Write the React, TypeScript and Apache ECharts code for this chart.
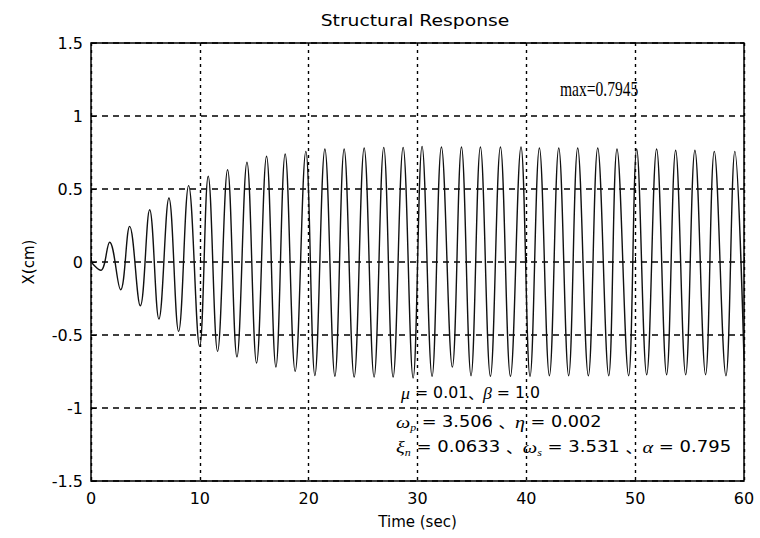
import React, { useEffect, useRef } from "react";
import * as echarts from "echarts";

// Extreme points (peaks / troughs) of the response
const TIME_SEC = [
  0, 0.89, 1.71, 2.72, 3.55, 4.53, 5.39, 6.24, 7.16, 8.05, 8.97, 9.98,
  10.77, 11.63, 12.55, 13.41, 14.33, 15.21, 16.13, 16.99, 17.84, 18.76, 19.74, 20.57,
  21.49, 22.41, 23.26, 24.18, 25.1, 26.01, 26.9, 27.76, 28.68, 29.6, 30.42, 31.34,
  32.2, 33.2, 34.04, 34.92, 35.78, 36.7, 37.62, 38.54, 39.51, 40.34, 41.2, 42.12,
  42.98, 43.89, 44.72, 45.7, 46.56, 47.57, 48.33, 49.4, 50.14, 51.06, 51.97, 52.89,
  53.72, 54.64, 55.49, 56.47, 57.27, 58.34, 59.16, 60,
];
const X_CM = [
  0, -0.057, 0.135, -0.19, 0.244, -0.3, 0.358, -0.39, 0.438, -0.475, 0.523, -0.578,
  0.587, -0.612, 0.632, -0.65, 0.683, -0.692, 0.724, -0.719, 0.74, -0.749, 0.758, -0.778,
  0.774, -0.783, 0.774, -0.788, 0.781, -0.788, 0.785, -0.788, 0.785, -0.7945, 0.792, -0.783,
  0.788, -0.72, 0.788, -0.779, 0.788, -0.783, 0.788, -0.783, 0.788, -0.783, 0.781, -0.779,
  0.781, -0.779, 0.781, -0.779, 0.781, -0.779, 0.774, -0.779, 0.774, -0.772, 0.774, -0.772,
  0.765, -0.772, 0.765, -0.772, 0.758, -0.779, 0.758, -0.67,
];

const TITLE = "Structural Response";
const X_NAME = "Time (sec)";
const Y_NAME = "X(cm)";
const MAX_LABEL = "max=0.7945";
const NOTE_LINES = [
  "{g|μ}{n| = 0.01}{c|、}{g|β}{n| = 1.0}",
  "{g|ω}{s|p}{n| = 3.506 }{c|、}{g|η}{n| = 0.002}",
  "{g|ξ}{s|n}{n| = 0.0633 }{c|、}{g|ω}{s|s}{n| = 3.531 }{c|、}{g|α}{n| = 0.795}",
];

const SANS = "DejaVu Sans";
const SERIF = "Liberation Serif";

export default function App() {
  const ref = useRef<HTMLDivElement>(null);

  useEffect(() => {
    if (!ref.current) return;
    const chart = echarts.init(ref.current, undefined, { renderer: "svg" });
    const data = TIME_SEC.map((t, i) => [t, X_CM[i]]);

    const rich = {
      g: { fontFamily: SERIF, fontStyle: "italic", fontSize: 17, fill: "#000", lineHeight: 20 },
      s: { fontFamily: SERIF, fontStyle: "italic", fontSize: 10, fill: "#000", lineHeight: 20, verticalAlign: "bottom" },
      n: { fontFamily: SANS, fontSize: 15, fill: "#000", lineHeight: 20 },
      c: { fontFamily: "Noto Sans CJK SC", fontSize: 14, fill: "#000", lineHeight: 20 },
    };
    const noteY = [393, 422, 447];
    const noteX = [401, 396, 396];
    const noteScale = [1.05, 1.18, 1.2];

    chart.setOption({
      animation: false,
      backgroundColor: "#fff",
      grid: {
        left: 91,
        right: 16,
        top: 43,
        bottom: 57,
        show: true,
        borderColor: "#000",
        borderWidth: 1.5,
        containLabel: false,
      },
      xAxis: {
        type: "value",
        min: 0,
        max: 60,
        interval: 10,
        name: X_NAME,
        nameLocation: "middle",
        nameGap: 33,
        nameTextStyle: { fontFamily: SANS, fontSize: 15, color: "#000" },
        axisLine: { show: false },
        axisTick: { show: true, inside: true, length: 5, lineStyle: { color: "#000" } },
        axisLabel: { fontFamily: SANS, fontSize: 16, color: "#000", margin: 9 },
        splitLine: { show: true, lineStyle: { color: "#000", type: [3, 4], width: 1.4 } },
      },
      yAxis: {
        type: "value",
        min: -1.5,
        max: 1.5,
        interval: 0.5,
        name: Y_NAME,
        nameLocation: "middle",
        nameGap: 55,
        nameRotate: 90,
        nameTextStyle: { fontFamily: SANS, fontSize: 15, color: "#000" },
        axisLine: { show: false },
        axisTick: { show: true, inside: true, length: 5, lineStyle: { color: "#000" } },
        axisLabel: { fontFamily: SANS, fontSize: 16, color: "#000", margin: 8 },
        splitLine: { show: true, lineStyle: { color: "#000", type: [6, 5], width: 1.5 } },
      },
      series: [
        {
          type: "line",
          data,
          showSymbol: false,
          smooth: 0.4,
          lineStyle: { color: "#111", width: 1.4 },
          z: 3,
        },
      ],
      graphic: [
        {
          type: "text",
          x: 415,
          y: 21,
          scaleX: 1.25,
          style: { text: TITLE, font: `15px '${SANS}'`, fill: "#000", align: "center", verticalAlign: "middle" },
        },
        {
          type: "text",
          x: 560,
          y: 89,
          scaleX: 0.74,
          style: { text: MAX_LABEL, font: `21px '${SERIF}'`, fill: "#000", align: "left", verticalAlign: "middle" },
          z: 10,
        },
        ...NOTE_LINES.map((txt, i) => ({
          type: "text",
          x: noteX[i],
          y: noteY[i],
          scaleX: noteScale[i],
          style: { text: txt, rich, fill: "#000", align: "left", verticalAlign: "middle" },
          z: 10,
        })),
      ],
    });
    return () => chart.dispose();
  }, []);

  return (
    <div
      ref={ref}
      style={{ position: "absolute", left: 0, top: 0, width: 760, height: 538, background: "#fff" }}
    />
  );
}
